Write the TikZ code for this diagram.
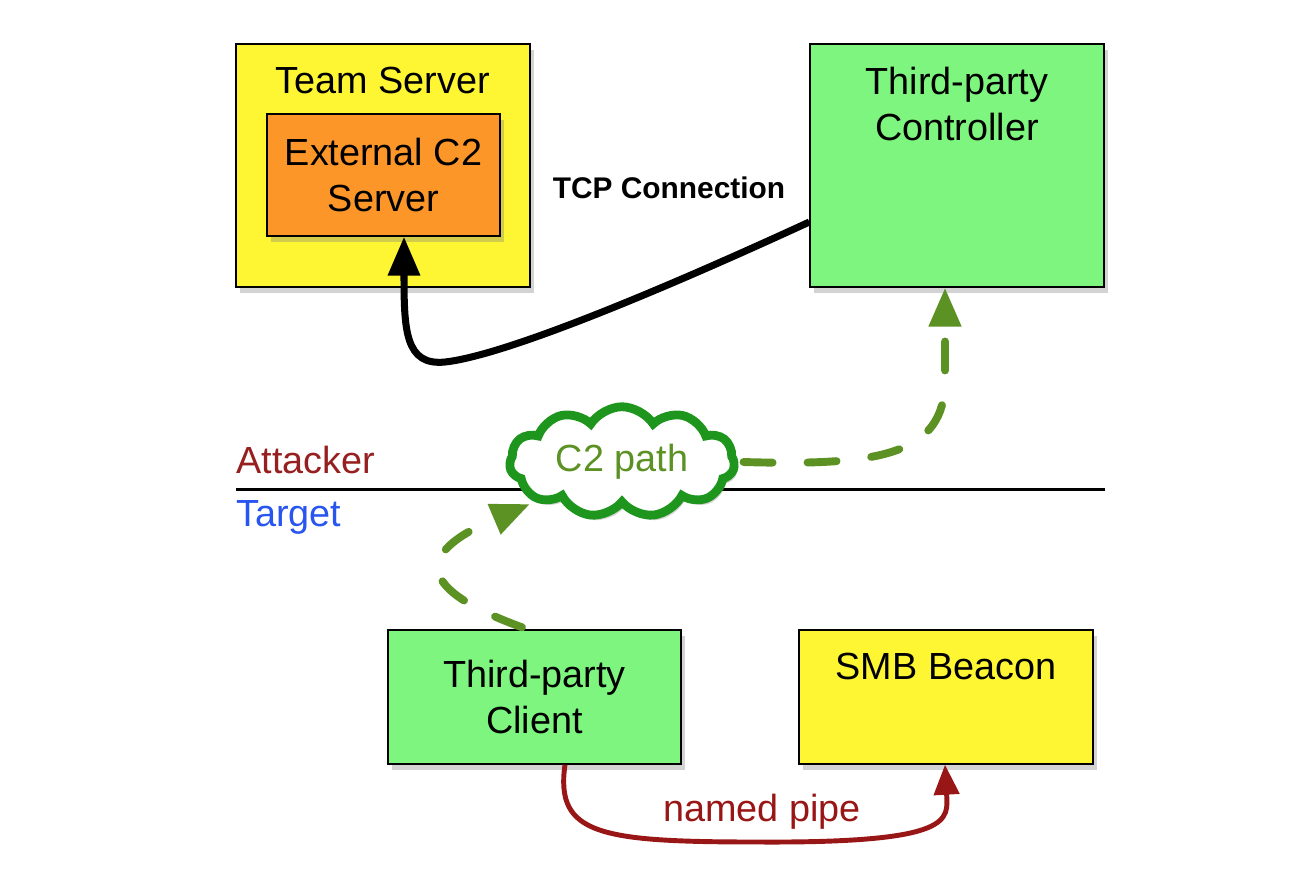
\documentclass[tikz,border=0pt]{standalone}
\usepackage{fontspec}
\setmainfont{Liberation Sans}
\usetikzlibrary{arrows.meta,shapes.symbols,shadows}
\definecolor{tsyellow}{RGB}{255,246,51}
\definecolor{extorange}{RGB}{253,150,40}
\definecolor{boxgreen}{RGB}{126,245,126}
\definecolor{pathgreen}{RGB}{92,145,36}
\definecolor{cloudgreen}{RGB}{30,150,30}
\definecolor{pipered}{RGB}{152,22,22}
\definecolor{attred}{RGB}{150,32,32}
\definecolor{tgtblue}{RGB}{40,85,240}
\begin{document}
\begin{tikzpicture}[x=0.02cm,y=-0.02cm,>={Triangle[length=0.78cm,width=0.62cm]},
	every node/.style={font=\fontsize{21.5}{26.6}\selectfont,inner sep=0pt},
	box/.style={draw=black,line width=0.8pt,drop shadow={opacity=0.35,shadow xshift=0.08cm,shadow yshift=-0.12cm}},
	c2arrow/.style={->,draw=pathgreen,line width=4.5pt,dash pattern=on 0.58cm off 0.7cm,line cap=round}]
	\useasboundingbox (0,0) rectangle (1294,894);
	\node[box,fill=tsyellow,minimum width=5.88cm,minimum height=4.86cm](ts) at (383,165.5) {};
	\node (tstext) at (383,80) {Team Server};
	\node[box,fill=extorange,minimum width=4.66cm,minimum height=2.44cm,align=center](ext) at (383.5,175) {External C2\\Server};
	\node[box,fill=boxgreen,minimum width=5.88cm,minimum height=4.86cm](ctrl) at (957,165.5) {};
	\node[align=center](ctrltext) at (957,104) {Third-party\\Controller};
	\node[font=\fontsize{17}{20}\selectfont\bfseries](tcp) at (669,188) {TCP Connection};
	\node[box,fill=boxgreen,minimum width=5.86cm,minimum height=2.68cm,align=center](client) at (534.5,697) {Third-party\\Client};
	\node[box,fill=tsyellow,minimum width=5.88cm,minimum height=2.68cm](smb) at (946,697) {};
	\node (smbtext) at (946,666) {SMB Beacon};
	\coordinate (sepl) at (236,489);
	\coordinate (sepr) at (1105,489);
	\draw[line width=1.7pt](sepl)--(sepr);
	\node[anchor=west,text=attred](att) at (236,460) {Attacker};
	\node[anchor=west,text=tgtblue](tgt) at (236,517) {Target};
	\node[cloud,cloud puffs=11,cloud puff arc=115,aspect=2.2,draw=cloudgreen,fill=white,line width=5pt,minimum width=4.5cm,minimum height=2.0cm,text=pathgreen,
		drop shadow={opacity=0.35,shadow xshift=0.06cm,shadow yshift=-0.1cm}](cloud) at (622,462) {C2 path};
	\draw[->,line width=4pt]([yshift=-1.13cm]ctrl.west) .. controls (640,300) and (500,356) .. (445,362) .. controls (405,366) and (404,330) .. ([xshift=0.41cm]ext.south);
	\draw[c2arrow]([xshift=0.1cm]cloud.east) .. controls (880,466) and (945,455) .. (945,380) -- ([xshift=-0.24cm]ctrl.south);
	\coordinate (cloudin) at (530,504);
	\draw[c2arrow]([xshift=-0.25cm,yshift=0.04cm]client.north) .. controls (420,590) and (410,555) .. (cloudin);
	\draw[->,draw=pipered,line width=2.8pt,>={Triangle[length=0.6cm,width=0.5cm]}]([xshift=0.61cm]client.south) .. controls (555,835) and (600,842) .. (760,842) .. controls (955,843) and (948,820) .. ([xshift=-0.02cm]smb.south);
	\node[text=pipered](pipe) at (762,812) {named pipe};
\end{tikzpicture}
\end{document}
